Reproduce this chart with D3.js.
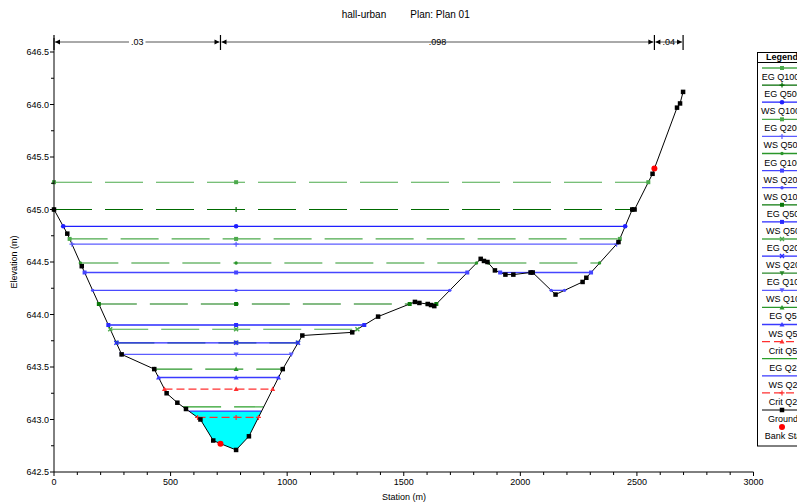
<!DOCTYPE html>
<html><head><meta charset="utf-8">
<script src="https://cdn.jsdelivr.net/npm/d3@7"></script>
<style>
html,body{margin:0;padding:0;background:#fff;}
svg{display:block;font-family:"Liberation Sans",Arial,sans-serif;}
.narrow{font-family:"Liberation Sans Narrow","Liberation Sans",Arial,sans-serif;}
</style></head>
<body><svg id="chart" width="797" height="504"></svg>
<script>
// ---- data ----
const groundStation = [0,57,119,290,430,483,529,566,628,683,714,781,836,981,1065,1279,1390,1548,1567,1603,1617,1631,1830,1844,1859,1891,1936,1970,2044,2053,2151,2267,2283,2421,2480,2490,2567,2575,2672,2685,2698];
const groundElev    = [645.00,644.77,644.46,643.62,643.48,643.25,643.16,643.10,643.00,642.80,642.77,642.71,642.84,643.48,643.80,643.83,643.98,644.12,644.11,644.10,644.09,644.08,644.53,644.51,644.50,644.42,644.38,644.38,644.40,644.40,644.19,644.31,644.35,644.69,645.00,645.00,645.34,645.39,645.97,646.01,646.12];
const bankStations = [714, 2575];
const bankElev = [642.77, 645.39];
const nStations = [0, 714, 2575, 2698];
const nValues = [".03", ".098", ".04"];
const profileNames = ["EG Q1000","EG Q500","WS Q1000","EG Q200","WS Q500","EG Q100","WS Q200","WS Q100","EG Q50","WS Q50","EG Q20","WS Q20","EG Q10","WS Q10","EG Q5","WS Q5","Crit Q5","EG Q2","WS Q2","Crit Q2"];
const profileElev = [645.26,645.00,644.84,644.72,644.67,644.49,644.40,644.23,644.10,643.90,643.86,643.73,643.73,643.62,643.48,643.40,643.29,643.12,643.08,643.02];
const xTicks = [0,500,1000,1500,2000,2500,3000];
const yTicks = [642.5,643.0,643.5,644.0,644.5,645.0,645.5,646.0,646.5];
const titleLeft = "hall-urban", titleRight = "Plan: Plan 01";

// ---- styles ----
const styles = {
 "EG Q1000":{c:"#4caa4c",d:"38,13",m:"square"},
 "EG Q500":{c:"#006a00",d:"38,13",m:"plus"},
 "WS Q1000":{c:"#1f1fff",d:null,m:"circle"},
 "EG Q200":{c:"#4caa4c",d:"38,13",m:"square"},
 "WS Q500":{c:"#5c5cff",d:null,m:"plus"},
 "EG Q100":{c:"#2a962a",d:"38,13",m:"dot"},
 "WS Q200":{c:"#4545ff",d:null,m:"square"},
 "WS Q100":{c:"#4a4aff",d:null,m:"dot"},
 "EG Q50":{c:"#0a780a",d:"38,13",m:"square"},
 "WS Q50":{c:"#2a2aff",d:null,m:"square"},
 "EG Q20":{c:"#4caa4c",d:"38,13",m:"x"},
 "WS Q20":{c:"#2a2aff",d:null,m:"x"},
 "EG Q10":{c:"#2a882a",d:"38,13",m:"tridown"},
 "WS Q10":{c:"#5c5cff",d:null,m:"tridown"},
 "EG Q5":{c:"#2a962a",d:"38,13",m:"triup"},
 "WS Q5":{c:"#3a3aff",d:null,m:"triup"},
 "Crit Q5":{c:"#ff3030",d:"8,4",m:"triup"},
 "EG Q2":{c:"#2aa02a",d:"38,13",m:null},
 "WS Q2":{c:"#3a3aff",d:null,m:null},
 "Crit Q2":{c:"#ff3030",d:"8,4",m:"plus"}
};

const svg = d3.select("#chart");
svg.append("rect").attr("width",797).attr("height",504).attr("fill","#fff");
const x = d3.scaleLinear().domain([0,3000]).range([54,753.5]);
const y = d3.scaleLinear().domain([642.5,646.5]).range([472,52]);
const ground = groundStation.map((s,i)=>({s, e:groundElev[i]}));
const thalweg = ground.reduce((a,b)=>b.e<a.e?b:a).s;

function wet(L){
  const out=[]; let start=null;
  if(ground[0].e < L) start = ground[0].s;
  for(let i=0;i<ground.length-1;i++){
    const a=ground[i], b=ground[i+1];
    const aw=a.e<L, bw=b.e<L;
    const cross = ()=> a.s + (L-a.e)/(b.e-a.e)*(b.s-a.s);
    if(!aw && bw) start = (a.e===L)?a.s:cross();
    if(aw && !bw){ out.push([start, (b.e===L)?b.s:cross()]); start=null; }
  }
  if(start!==null) out.push([start, ground[ground.length-1].s]);
  return out;
}

function marker(g, type, cx, cy, color, sz){
  sz = sz||4;
  const h=sz/2;
  if(!type) return;
  if(type==="square") g.append("rect").attr("x",cx-h).attr("y",cy-h).attr("width",sz).attr("height",sz).attr("fill",color);
  else if(type==="circle") g.append("circle").attr("cx",cx).attr("cy",cy).attr("r",h+0.3).attr("fill",color);
  else if(type==="dot") g.append("circle").attr("cx",cx).attr("cy",cy).attr("r",h-0.3).attr("fill",color);
  else if(type==="plus") g.append("path").attr("d",`M${cx-h-0.5},${cy}H${cx+h+0.5}M${cx},${cy-h-0.5}V${cy+h+0.5}`).attr("stroke",color).attr("stroke-width",1.2);
  else if(type==="x") g.append("path").attr("d",`M${cx-h},${cy-h}L${cx+h},${cy+h}M${cx-h},${cy+h}L${cx+h},${cy-h}`).attr("stroke",color).attr("stroke-width",1.4);
  else if(type==="triup") g.append("path").attr("d",`M${cx},${cy-h-0.5}L${cx+h+0.5},${cy+h}L${cx-h-0.5},${cy+h}Z`).attr("fill",color);
  else if(type==="tridown") g.append("path").attr("d",`M${cx},${cy+h+0.5}L${cx+h+0.5},${cy-h}L${cx-h-0.5},${cy-h}Z`).attr("fill",color);
}

// Title
svg.append("text").attr("x",364).attr("y",18).attr("text-anchor","middle").attr("font-size",10).text(titleLeft);
svg.append("text").attr("x",440).attr("y",18).attr("text-anchor","middle").attr("font-size",10).text(titleRight);

// cyan fill for WS Q2
const wsq2 = profileElev[profileNames.indexOf("WS Q2")];
wet(wsq2).forEach(([a,b])=>{
  const pts=[[a,wsq2]];
  ground.forEach(p=>{ if(p.s>a && p.s<b) pts.push([p.s,p.e]); });
  pts.push([b,wsq2]);
  svg.append("path").attr("d", d3.line().x(d=>x(d[0])).y(d=>y(d[1]))(pts)+"Z").attr("fill","#00ffff");
});

// water lines, drawn in reverse legend order
const wl = svg.append("g");
for(let k=profileNames.length-1;k>=0;k--){
  const name=profileNames[k], L=profileElev[k], st=styles[name];
  const isEG = name.startsWith("EG");
  wet(L).forEach(([a,b])=>{
    wl.append("line").attr("x1",x(a)).attr("x2",x(b)).attr("y1",y(L)).attr("y2",y(L))
      .attr("stroke",st.c).attr("stroke-width",isEG?1.1:1.3).attr("stroke-dasharray",st.d);
  });
}
// ground line
svg.append("path").attr("d", d3.line().x(d=>x(d.s)).y(d=>y(d.e))(ground)).attr("fill","none").attr("stroke","#000").attr("stroke-width",1);
// water markers
const wm = svg.append("g");
for(let k=profileNames.length-1;k>=0;k--){
  const name=profileNames[k], L=profileElev[k], st=styles[name];
  wet(L).forEach(([a,b])=>{
    marker(wm, st.m, x(a), y(L), st.c);
    marker(wm, st.m, x(b), y(L), st.c);
    if(thalweg>a && thalweg<b) marker(wm, st.m, x(thalweg), y(L), st.c);
  });
}
// ground markers
ground.forEach(p=>{ if(!bankStations.includes(p.s)) marker(svg,"square",x(p.s),y(p.e),"#000",4.5); });
bankStations.forEach((s,i)=> svg.append("circle").attr("cx",x(s)).attr("cy",y(bankElev[i])).attr("r",3).attr("fill","#ff0000"));

// axes
const axG = svg.append("g").attr("fill","none").attr("stroke","#000");
axG.append("line").attr("x1",54).attr("x2",54).attr("y1",38).attr("y2",472);
axG.append("line").attr("x1",54).attr("x2",753.5).attr("y1",472).attr("y2",472);
d3.range(0,3001,100).forEach(v=>{
  const big = v%500===0;
  axG.append("line").attr("x1",x(v)).attr("x2",x(v)).attr("y1",472).attr("y2",472+(big?4:3));
});
d3.range(0,17).forEach(i=>{
  const v = 642.5+i*0.25;
  const big = i%2===0;
  axG.append("line").attr("x1",54-(big?4:3)).attr("x2",54).attr("y1",y(v)).attr("y2",y(v));
});
svg.selectAll(".xl").data(xTicks).enter().append("text").attr("class","narrow")
  .attr("x",d=>x(d)).attr("y",485).attr("text-anchor","middle").attr("font-size",9).text(d=>d);
svg.selectAll(".yl").data(yTicks).enter().append("text")
  .attr("x",49).attr("y",d=>y(d)+3.2).attr("text-anchor","end").attr("font-size",9).text(d=>d3.format(".1f")(d));
svg.append("text").attr("class","narrow").attr("x",404).attr("y",500).attr("text-anchor","middle").attr("font-size",9).text("Station (m)");
svg.append("text").attr("transform","translate(17,262) rotate(-90)").attr("text-anchor","middle").attr("font-size",9).text("Elevation (m)");

// Manning's n annotation
const ny = 42;
const ng = svg.append("g");
nStations.forEach(s=> ng.append("line").attr("x1",x(s)).attr("x2",x(s)).attr("y1",35).attr("y2",50).attr("stroke","#000").attr("stroke-width",1.2));
for(let i=0;i<nValues.length;i++){
  const a=x(nStations[i])+1, b=x(nStations[i+1])-1, m=(a+b)/2;
  ng.append("line").attr("x1",a).attr("x2",b).attr("y1",ny).attr("y2",ny).attr("stroke","#555").attr("stroke-width",1);
  ng.append("path").attr("d",`M${a},${ny}L${a+5},${ny-2.5}L${a+5},${ny+2.5}Z`).attr("fill","#000");
  ng.append("path").attr("d",`M${b},${ny}L${b-5},${ny-2.5}L${b-5},${ny+2.5}Z`).attr("fill","#000");
  const t = ng.append("text").attr("x",m).attr("y",ny+3).attr("text-anchor","middle").attr("font-size",9).text(nValues[i]);
  const w = t.node().getComputedTextLength();
  ng.insert("rect","text").attr("x",m-w/2-2).attr("y",ny-4).attr("width",w+4).attr("height",8).attr("fill","#fff");
}

// Legend
const lg = svg.append("g");
lg.append("rect").attr("x",757.5).attr("y",52.5).attr("width",60).attr("height",393.5).attr("fill","#fff").attr("stroke","#000");
lg.append("text").attr("x",782).attr("y",60).attr("text-anchor","middle").attr("font-size",9).attr("font-weight","bold").text("Legend");
lg.append("line").attr("x1",757.5).attr("x2",817).attr("y1",62.5).attr("y2",62.5).attr("stroke","#000");
const legendItems = profileNames.concat(["Ground","Bank Sta"]);
legendItems.forEach((name,i)=>{
  const ly = 68 + i*17.1;
  if(name==="Ground"){
    lg.append("line").attr("x1",762).attr("x2",805).attr("y1",ly).attr("y2",ly).attr("stroke","#000");
    marker(lg,"square",782,ly,"#000",4.5);
  } else if(name==="Bank Sta"){
    lg.append("circle").attr("cx",782).attr("cy",ly).attr("r",3).attr("fill","#ff0000");
  } else {
    const st=styles[name];
    lg.append("line").attr("x1",762).attr("x2",805).attr("y1",ly).attr("y2",ly).attr("stroke",st.c).attr("stroke-width",1.3)
      .attr("stroke-dasharray", st.d==="8,4"?"8,4":null);
    marker(lg, st.m, 782, ly, st.c);
  }
  lg.append("text").attr("x",783).attr("y",ly+12).attr("text-anchor","middle").attr("font-size",9).text(name);
});
</script></body></html>
